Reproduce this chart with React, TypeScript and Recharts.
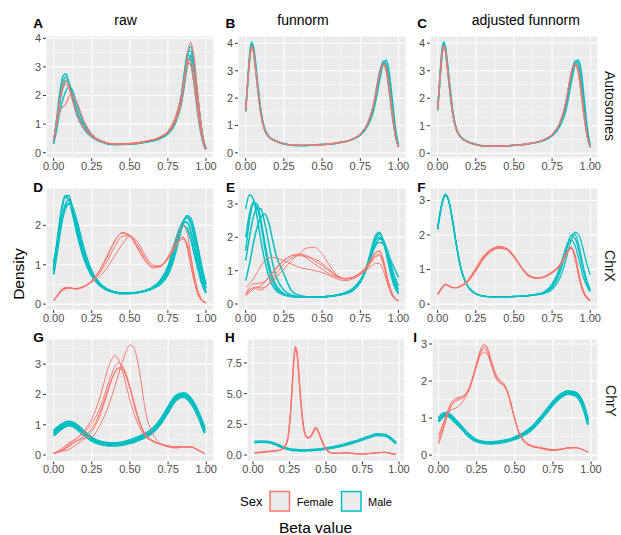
import React from 'react';
import { LineChart, Line, XAxis, YAxis, CartesianGrid, ReferenceLine } from 'recharts';

const FEMALE = '#F8766D';
const MALE = '#00BFC4';
const FONT = '"Liberation Sans", Arial, Helvetica, sans-serif';

const xTickValues = [0, 0.25, 0.5, 0.75, 1];
const xMinorValues = [0.125, 0.375, 0.625, 0.875];
const columnTitles = ['raw', 'funnorm', 'adjusted funnorm'];
const rowLabels = ['Autosomes', 'ChrX', 'ChrY'];
const sexLevels = ['Female', 'Male'];

// ---------- Panel A: raw, autosomes ----------
const xA = [0, 0.02, 0.04, 0.06, 0.08, 0.1, 0.12, 0.15, 0.2, 0.25, 0.3, 0.4, 0.5, 0.6, 0.7, 0.75, 0.8, 0.84, 0.86, 0.88, 0.9, 0.92, 0.94, 0.96, 0.98, 1.0];
const aM1 = [0.40, 1.20, 2.10, 2.65, 2.76, 2.45, 1.95, 1.35, 0.82, 0.55, 0.40, 0.28, 0.30, 0.37, 0.52, 0.70, 1.15, 1.95, 2.70, 3.55, 3.55, 2.90, 2.00, 1.10, 0.45, 0.12];
const aM2 = [0.45, 1.10, 1.90, 2.45, 2.65, 2.45, 2.00, 1.40, 0.85, 0.56, 0.41, 0.29, 0.30, 0.36, 0.50, 0.68, 1.20, 2.10, 2.90, 3.45, 3.20, 2.45, 1.60, 0.85, 0.35, 0.10];
const aM3 = [0.30, 0.80, 1.40, 1.85, 2.15, 2.30, 2.22, 1.75, 1.00, 0.62, 0.44, 0.29, 0.30, 0.37, 0.50, 0.66, 1.05, 1.75, 2.40, 3.10, 3.40, 3.00, 2.20, 1.30, 0.55, 0.15];
const aM4 = [0.35, 0.95, 1.70, 2.25, 2.50, 2.45, 2.10, 1.55, 0.90, 0.58, 0.42, 0.29, 0.30, 0.36, 0.50, 0.66, 1.05, 1.80, 2.55, 3.45, 3.72, 3.20, 2.30, 1.30, 0.55, 0.16];
const aF1 = [0.42, 1.10, 1.85, 2.40, 2.55, 2.35, 1.95, 1.40, 0.85, 0.57, 0.42, 0.30, 0.31, 0.38, 0.53, 0.70, 1.10, 1.85, 2.60, 3.50, 3.85, 3.40, 2.40, 1.35, 0.55, 0.15];
const aF2 = [0.40, 1.05, 1.75, 2.25, 2.40, 2.25, 1.90, 1.38, 0.86, 0.58, 0.43, 0.31, 0.32, 0.39, 0.54, 0.72, 1.15, 1.90, 2.55, 3.15, 3.28, 2.80, 1.95, 1.10, 0.45, 0.12];
const aF3 = [0.45, 1.00, 1.45, 1.60, 1.70, 1.95, 2.05, 1.80, 1.10, 0.65, 0.45, 0.31, 0.33, 0.40, 0.56, 0.75, 1.25, 2.05, 2.70, 3.15, 3.05, 2.45, 1.65, 0.90, 0.38, 0.10];

// ---------- Panel B: funnorm, autosomes ----------
const xB = [0, 0.01, 0.02, 0.03, 0.04, 0.05, 0.06, 0.08, 0.1, 0.12, 0.15, 0.2, 0.25, 0.3, 0.4, 0.5, 0.6, 0.7, 0.75, 0.8, 0.84, 0.86, 0.88, 0.9, 0.92, 0.94, 0.96, 0.98, 1.0];
const bM1 = [1.55, 2.35, 3.15, 3.80, 4.05, 3.85, 3.40, 2.35, 1.45, 0.92, 0.60, 0.42, 0.33, 0.28, 0.27, 0.30, 0.36, 0.50, 0.66, 1.05, 1.75, 2.35, 2.95, 3.35, 3.25, 2.55, 1.55, 0.70, 0.22];
const bM2 = [1.60, 2.25, 3.00, 3.60, 3.92, 3.92, 3.55, 2.50, 1.55, 0.97, 0.62, 0.43, 0.33, 0.28, 0.27, 0.30, 0.36, 0.49, 0.64, 1.00, 1.60, 2.15, 2.75, 3.25, 3.38, 2.90, 1.90, 0.90, 0.28];
const bM3 = [1.50, 2.30, 3.10, 3.72, 3.98, 3.80, 3.30, 2.28, 1.42, 0.90, 0.59, 0.42, 0.33, 0.28, 0.27, 0.30, 0.36, 0.51, 0.68, 1.10, 1.85, 2.50, 3.05, 3.30, 3.00, 2.20, 1.30, 0.60, 0.20];
const bF1 = [1.55, 2.30, 3.05, 3.65, 3.90, 3.78, 3.35, 2.35, 1.45, 0.92, 0.60, 0.42, 0.33, 0.28, 0.27, 0.30, 0.36, 0.50, 0.67, 1.07, 1.80, 2.40, 2.98, 3.28, 3.10, 2.40, 1.45, 0.65, 0.22];
const bF2 = [1.58, 2.32, 3.05, 3.62, 3.85, 3.70, 3.28, 2.30, 1.43, 0.91, 0.60, 0.42, 0.33, 0.28, 0.27, 0.30, 0.36, 0.50, 0.68, 1.10, 1.85, 2.45, 3.02, 3.22, 2.95, 2.20, 1.30, 0.60, 0.20];

// ---------- Panel C: adjusted funnorm, autosomes ----------
const xC = [0, 0.01, 0.02, 0.03, 0.04, 0.05, 0.06, 0.08, 0.1, 0.12, 0.15, 0.2, 0.25, 0.3, 0.4, 0.5, 0.6, 0.7, 0.75, 0.8, 0.84, 0.86, 0.88, 0.9, 0.92, 0.94, 0.96, 0.98, 1.0];
const cM1 = [1.62, 2.40, 3.20, 3.82, 4.04, 3.85, 3.38, 2.32, 1.43, 0.91, 0.59, 0.41, 0.32, 0.27, 0.26, 0.29, 0.35, 0.49, 0.65, 1.02, 1.70, 2.30, 2.92, 3.35, 3.30, 2.65, 1.65, 0.75, 0.25];
const cM2 = [1.55, 2.20, 2.95, 3.58, 3.92, 3.90, 3.52, 2.48, 1.52, 0.95, 0.61, 0.42, 0.32, 0.27, 0.26, 0.29, 0.35, 0.48, 0.63, 0.98, 1.55, 2.10, 2.70, 3.20, 3.40, 3.00, 2.00, 0.95, 0.30];
const cM3 = [1.60, 2.35, 3.12, 3.75, 4.00, 3.80, 3.30, 2.25, 1.40, 0.90, 0.59, 0.41, 0.32, 0.27, 0.26, 0.29, 0.35, 0.50, 0.67, 1.08, 1.82, 2.45, 3.02, 3.30, 3.05, 2.25, 1.35, 0.62, 0.21];
const cF1 = [1.60, 2.32, 3.08, 3.68, 3.92, 3.78, 3.33, 2.32, 1.44, 0.92, 0.60, 0.41, 0.32, 0.27, 0.26, 0.29, 0.35, 0.50, 0.67, 1.07, 1.80, 2.42, 3.00, 3.27, 3.10, 2.40, 1.45, 0.66, 0.22];
const cF2 = [1.58, 2.30, 3.05, 3.62, 3.86, 3.72, 3.28, 2.30, 1.43, 0.91, 0.60, 0.41, 0.32, 0.27, 0.26, 0.29, 0.35, 0.50, 0.68, 1.10, 1.86, 2.48, 3.04, 3.22, 2.95, 2.20, 1.30, 0.60, 0.20];

// ---------- Panel D: raw, ChrX ----------
const xD = [0, 0.025, 0.05, 0.075, 0.1, 0.125, 0.15, 0.2, 0.25, 0.3, 0.35, 0.4, 0.45, 0.5, 0.55, 0.6, 0.65, 0.7, 0.75, 0.8, 0.825, 0.85, 0.875, 0.9, 0.925, 0.95, 0.975, 1.0];
const dM1 = [0.90, 1.60, 2.30, 2.75, 2.75, 2.40, 1.95, 1.20, 0.74, 0.49, 0.36, 0.30, 0.27, 0.27, 0.29, 0.33, 0.40, 0.52, 0.80, 1.45, 1.80, 2.10, 2.20, 2.05, 1.68, 1.20, 0.75, 0.40];
const dM2 = [0.75, 1.35, 2.00, 2.50, 2.65, 2.45, 2.05, 1.30, 0.80, 0.52, 0.37, 0.30, 0.27, 0.27, 0.29, 0.33, 0.41, 0.55, 0.88, 1.55, 1.88, 2.08, 2.08, 1.85, 1.45, 0.98, 0.60, 0.30];
const dM3 = [1.05, 1.55, 2.05, 2.40, 2.55, 2.45, 2.15, 1.40, 0.84, 0.54, 0.38, 0.31, 0.28, 0.28, 0.30, 0.34, 0.40, 0.50, 0.74, 1.30, 1.70, 2.05, 2.25, 2.18, 1.85, 1.38, 0.90, 0.50];
const dM4 = [0.85, 1.65, 2.35, 2.72, 2.65, 2.28, 1.85, 1.15, 0.72, 0.48, 0.36, 0.30, 0.27, 0.27, 0.29, 0.34, 0.43, 0.60, 0.95, 1.62, 1.90, 2.00, 1.92, 1.65, 1.25, 0.85, 0.50, 0.28];
const dF1 = [0.08, 0.20, 0.33, 0.40, 0.41, 0.39, 0.38, 0.44, 0.58, 0.82, 1.18, 1.58, 1.82, 1.75, 1.45, 1.12, 0.94, 0.97, 1.20, 1.62, 1.85, 2.00, 1.82, 1.25, 0.70, 0.30, 0.10, 0.04];
const dF2 = [0.09, 0.22, 0.35, 0.41, 0.42, 0.40, 0.39, 0.45, 0.60, 0.85, 1.22, 1.60, 1.80, 1.72, 1.42, 1.10, 0.92, 0.95, 1.15, 1.45, 1.62, 1.70, 1.50, 1.00, 0.55, 0.22, 0.08, 0.03];
const dF3 = [0.08, 0.20, 0.32, 0.38, 0.40, 0.40, 0.40, 0.46, 0.56, 0.70, 0.92, 1.22, 1.52, 1.72, 1.58, 1.25, 1.00, 0.96, 1.15, 1.50, 1.65, 1.70, 1.45, 0.98, 0.55, 0.22, 0.08, 0.03];
const dF4 = [0.10, 0.23, 0.36, 0.42, 0.42, 0.40, 0.39, 0.44, 0.57, 0.78, 1.08, 1.45, 1.72, 1.74, 1.50, 1.18, 0.97, 0.98, 1.18, 1.48, 1.60, 1.65, 1.55, 1.15, 0.65, 0.28, 0.10, 0.04];

// ---------- Panel E: funnorm, ChrX ----------
const xE = [0, 0.025, 0.05, 0.075, 0.1, 0.125, 0.15, 0.175, 0.2, 0.25, 0.3, 0.35, 0.4, 0.45, 0.5, 0.55, 0.6, 0.65, 0.7, 0.75, 0.8, 0.825, 0.85, 0.875, 0.9, 0.925, 0.95, 0.975, 1.0];
const eM1 = [2.85, 3.28, 3.15, 2.60, 1.90, 1.30, 0.85, 0.56, 0.40, 0.27, 0.22, 0.20, 0.20, 0.20, 0.21, 0.23, 0.26, 0.31, 0.40, 0.65, 1.20, 1.60, 1.95, 2.10, 1.92, 1.50, 1.00, 0.60, 0.35];
const eM2 = [2.00, 2.70, 3.05, 3.00, 2.50, 1.85, 1.25, 0.82, 0.56, 0.32, 0.24, 0.21, 0.20, 0.20, 0.21, 0.23, 0.26, 0.32, 0.42, 0.70, 1.25, 1.62, 1.92, 2.00, 1.85, 1.50, 1.05, 0.68, 0.45];
const eM3 = [1.30, 2.00, 2.60, 2.88, 2.85, 2.42, 1.85, 1.25, 0.82, 0.42, 0.27, 0.22, 0.21, 0.21, 0.21, 0.23, 0.26, 0.31, 0.40, 0.66, 1.25, 1.70, 2.05, 2.15, 1.90, 1.40, 0.88, 0.50, 0.30];
const eM4 = [0.70, 1.20, 1.80, 2.30, 2.60, 2.70, 2.45, 1.95, 1.45, 0.90, 0.40, 0.26, 0.22, 0.21, 0.21, 0.23, 0.27, 0.34, 0.46, 0.72, 1.15, 1.48, 1.75, 1.85, 1.80, 1.60, 1.30, 1.05, 0.80];
const eM5 = [1.60, 2.50, 3.00, 2.90, 2.40, 1.70, 1.10, 0.70, 0.48, 0.29, 0.23, 0.21, 0.20, 0.20, 0.21, 0.23, 0.27, 0.33, 0.44, 0.68, 1.15, 1.50, 1.80, 1.95, 1.90, 1.62, 1.20, 0.82, 0.55];
const eF1 = [0.50, 0.60, 0.75, 0.95, 1.15, 1.30, 1.38, 1.40, 1.38, 1.30, 1.20, 1.10, 1.05, 1.00, 0.95, 0.85, 0.75, 0.70, 0.75, 0.88, 1.05, 1.15, 1.22, 1.22, 1.00, 0.65, 0.32, 0.15, 0.10];
const eF2 = [0.28, 0.40, 0.50, 0.50, 0.48, 0.50, 0.58, 0.68, 0.80, 1.05, 1.30, 1.50, 1.68, 1.70, 1.50, 1.15, 0.85, 0.75, 0.80, 0.95, 1.20, 1.40, 1.55, 1.58, 1.30, 0.80, 0.40, 0.18, 0.10];
const eF3 = [0.30, 0.50, 0.60, 0.62, 0.63, 0.68, 0.78, 0.90, 1.05, 1.30, 1.45, 1.50, 1.45, 1.30, 1.15, 0.98, 0.82, 0.75, 0.78, 0.92, 1.15, 1.30, 1.45, 1.50, 1.25, 0.80, 0.40, 0.18, 0.10];
const eF4 = [0.25, 0.35, 0.45, 0.50, 0.55, 0.65, 0.80, 0.95, 1.10, 1.30, 1.45, 1.47, 1.38, 1.20, 1.05, 0.90, 0.80, 0.77, 0.80, 0.92, 1.15, 1.35, 1.52, 1.60, 1.35, 0.85, 0.42, 0.18, 0.10];
const eF5 = [0.32, 0.42, 0.48, 0.45, 0.42, 0.48, 0.60, 0.75, 0.92, 1.20, 1.38, 1.45, 1.42, 1.35, 1.22, 1.02, 0.85, 0.76, 0.78, 0.90, 1.12, 1.28, 1.42, 1.45, 1.20, 0.75, 0.38, 0.17, 0.10];

// ---------- Panel F: adjusted funnorm, ChrX ----------
const xF = [0, 0.025, 0.05, 0.075, 0.1, 0.125, 0.15, 0.175, 0.2, 0.25, 0.3, 0.35, 0.4, 0.45, 0.5, 0.55, 0.6, 0.65, 0.7, 0.75, 0.8, 0.825, 0.85, 0.875, 0.9, 0.925, 0.95, 0.975, 1.0];
const fM1 = [2.20, 2.85, 3.18, 2.95, 2.35, 1.65, 1.08, 0.72, 0.50, 0.30, 0.23, 0.21, 0.21, 0.21, 0.22, 0.23, 0.25, 0.28, 0.34, 0.52, 0.98, 1.35, 1.72, 1.98, 1.90, 1.55, 1.05, 0.65, 0.38];
const fM2 = [2.15, 2.80, 3.15, 2.95, 2.38, 1.68, 1.10, 0.73, 0.50, 0.30, 0.23, 0.21, 0.21, 0.21, 0.22, 0.23, 0.25, 0.28, 0.33, 0.48, 0.90, 1.25, 1.65, 2.00, 2.02, 1.70, 1.18, 0.72, 0.42];
const fM3 = [2.18, 2.83, 3.16, 2.94, 2.36, 1.66, 1.09, 0.72, 0.50, 0.30, 0.23, 0.21, 0.21, 0.21, 0.22, 0.23, 0.25, 0.27, 0.31, 0.42, 0.75, 1.05, 1.45, 1.85, 2.08, 2.00, 1.65, 1.20, 0.85];
const fM4 = [2.22, 2.86, 3.18, 2.96, 2.35, 1.64, 1.07, 0.71, 0.50, 0.30, 0.23, 0.21, 0.21, 0.21, 0.22, 0.23, 0.25, 0.29, 0.36, 0.58, 1.05, 1.42, 1.75, 1.85, 1.70, 1.30, 0.85, 0.55, 0.35];
const fF1 = [0.28, 0.45, 0.57, 0.52, 0.48, 0.48, 0.52, 0.58, 0.68, 1.00, 1.35, 1.55, 1.65, 1.60, 1.38, 1.05, 0.82, 0.75, 0.80, 0.92, 1.12, 1.30, 1.52, 1.65, 1.40, 0.85, 0.42, 0.20, 0.10];
const fF2 = [0.26, 0.43, 0.56, 0.52, 0.47, 0.47, 0.51, 0.57, 0.66, 0.96, 1.30, 1.52, 1.62, 1.58, 1.36, 1.04, 0.80, 0.74, 0.78, 0.90, 1.10, 1.28, 1.48, 1.62, 1.42, 0.90, 0.45, 0.22, 0.11];
const fF3 = [0.30, 0.46, 0.58, 0.53, 0.48, 0.48, 0.53, 0.60, 0.70, 1.04, 1.38, 1.58, 1.67, 1.62, 1.40, 1.07, 0.83, 0.76, 0.80, 0.93, 1.14, 1.33, 1.55, 1.62, 1.32, 0.78, 0.38, 0.18, 0.09];

// ---------- Panel G: raw, ChrY ----------
const xG = [0, 0.05, 0.1, 0.15, 0.2, 0.25, 0.3, 0.325, 0.35, 0.375, 0.4, 0.425, 0.45, 0.475, 0.5, 0.525, 0.55, 0.575, 0.6, 0.65, 0.7, 0.75, 0.8, 0.85, 0.9, 0.95, 0.99];
const gM1 = [0.64, 0.86, 0.98, 0.88, 0.66, 0.47, 0.37, 0.34, 0.32, 0.31, 0.31, 0.32, 0.34, 0.36, 0.40, 0.43, 0.48, 0.53, 0.59, 0.75, 1.03, 1.42, 1.80, 1.92, 1.72, 1.25, 0.72];
const gM2 = [0.72, 0.94, 1.05, 0.95, 0.72, 0.52, 0.41, 0.38, 0.36, 0.35, 0.35, 0.36, 0.38, 0.40, 0.44, 0.48, 0.53, 0.58, 0.64, 0.80, 1.10, 1.50, 1.88, 2.00, 1.80, 1.32, 0.80];
const gM3 = [0.80, 1.00, 1.10, 1.00, 0.78, 0.57, 0.45, 0.42, 0.40, 0.39, 0.39, 0.40, 0.42, 0.45, 0.49, 0.53, 0.58, 0.64, 0.70, 0.87, 1.17, 1.58, 1.95, 2.04, 1.86, 1.40, 0.88];
const gF1 = [0.05, 0.12, 0.28, 0.45, 0.55, 0.60, 0.95, 1.20, 1.50, 1.85, 2.25, 2.65, 3.05, 3.42, 3.63, 3.55, 3.10, 2.35, 1.50, 0.70, 0.38, 0.27, 0.23, 0.26, 0.27, 0.15, 0.05];
const gF2 = [0.05, 0.15, 0.35, 0.55, 0.80, 1.20, 1.85, 2.30, 2.75, 3.10, 3.28, 3.15, 2.80, 2.30, 1.80, 1.40, 1.05, 0.80, 0.62, 0.45, 0.35, 0.28, 0.25, 0.27, 0.26, 0.15, 0.05];
const gF3 = [0.05, 0.20, 0.40, 0.55, 0.75, 1.05, 1.50, 1.85, 2.25, 2.60, 2.90, 3.05, 2.95, 2.65, 2.20, 1.70, 1.25, 0.90, 0.65, 0.45, 0.36, 0.30, 0.26, 0.28, 0.27, 0.15, 0.05];
const gF4 = [0.08, 0.12, 0.18, 0.35, 0.52, 0.80, 1.25, 1.62, 2.00, 2.40, 2.72, 2.88, 2.88, 2.65, 2.25, 1.78, 1.30, 0.95, 0.68, 0.46, 0.36, 0.30, 0.26, 0.28, 0.28, 0.16, 0.05];
const gF5 = [0.06, 0.16, 0.30, 0.48, 0.62, 0.88, 1.35, 1.70, 2.08, 2.45, 2.72, 2.84, 2.82, 2.58, 2.20, 1.75, 1.30, 0.95, 0.70, 0.48, 0.37, 0.30, 0.27, 0.28, 0.27, 0.15, 0.05];

// ---------- Panel H: funnorm, ChrY ----------
const xH = [0.01, 0.05, 0.1, 0.15, 0.2, 0.22, 0.24, 0.26, 0.27, 0.28, 0.29, 0.3, 0.31, 0.32, 0.34, 0.36, 0.38, 0.4, 0.42, 0.43, 0.44, 0.46, 0.48, 0.5, 0.55, 0.6, 0.65, 0.7, 0.75, 0.8, 0.85, 0.9, 0.95, 0.98];
const hM1 = [1.00, 1.06, 1.05, 0.88, 0.62, 0.54, 0.47, 0.42, 0.40, 0.39, 0.38, 0.37, 0.37, 0.36, 0.36, 0.36, 0.37, 0.38, 0.40, 0.41, 0.42, 0.44, 0.47, 0.50, 0.60, 0.72, 0.88, 1.05, 1.25, 1.45, 1.62, 1.58, 1.25, 0.92];
const hM2 = [1.08, 1.12, 1.10, 0.94, 0.68, 0.60, 0.52, 0.47, 0.45, 0.44, 0.43, 0.42, 0.41, 0.40, 0.40, 0.40, 0.41, 0.42, 0.44, 0.45, 0.46, 0.48, 0.51, 0.54, 0.65, 0.78, 0.95, 1.12, 1.33, 1.53, 1.70, 1.66, 1.32, 1.00];
const hF1 = [0.20, 0.24, 0.30, 0.35, 0.50, 0.75, 1.50, 4.10, 6.00, 7.90, 8.85, 8.50, 7.30, 5.60, 2.90, 1.65, 1.42, 1.62, 2.10, 2.25, 2.12, 1.55, 0.95, 0.50, 0.16, 0.16, 0.20, 0.12, 0.10, 0.13, 0.20, 0.23, 0.12, 0.06];
const hF2 = [0.15, 0.20, 0.26, 0.32, 0.45, 0.70, 1.35, 3.80, 5.70, 7.60, 8.60, 8.35, 7.10, 5.40, 2.75, 1.55, 1.35, 1.55, 2.00, 2.18, 2.05, 1.50, 0.90, 0.45, 0.14, 0.14, 0.18, 0.10, 0.08, 0.11, 0.18, 0.21, 0.10, 0.05];

// ---------- Panel I: adjusted funnorm, ChrY ----------
const xI = [0, 0.025, 0.05, 0.075, 0.1, 0.125, 0.15, 0.175, 0.2, 0.225, 0.25, 0.275, 0.3, 0.325, 0.35, 0.375, 0.4, 0.425, 0.45, 0.475, 0.5, 0.525, 0.55, 0.6, 0.65, 0.7, 0.75, 0.8, 0.85, 0.9, 0.95, 0.98];
const iM1 = [0.90, 1.02, 1.07, 1.02, 0.92, 0.82, 0.72, 0.60, 0.50, 0.42, 0.37, 0.34, 0.32, 0.31, 0.31, 0.32, 0.33, 0.35, 0.37, 0.40, 0.43, 0.47, 0.52, 0.65, 0.85, 1.10, 1.35, 1.55, 1.65, 1.60, 1.25, 0.82];
const iM2 = [0.95, 1.07, 1.12, 1.07, 0.97, 0.86, 0.75, 0.63, 0.53, 0.45, 0.39, 0.36, 0.34, 0.33, 0.33, 0.34, 0.35, 0.37, 0.39, 0.42, 0.45, 0.50, 0.55, 0.69, 0.89, 1.14, 1.40, 1.60, 1.70, 1.65, 1.32, 0.90];
const iM3 = [1.00, 1.11, 1.14, 1.10, 1.00, 0.89, 0.78, 0.66, 0.56, 0.47, 0.41, 0.38, 0.36, 0.35, 0.35, 0.36, 0.37, 0.39, 0.41, 0.44, 0.48, 0.53, 0.58, 0.72, 0.93, 1.18, 1.44, 1.64, 1.73, 1.69, 1.38, 0.96];
const iF1 = [0.30, 0.60, 0.95, 1.25, 1.45, 1.52, 1.55, 1.62, 1.80, 2.10, 2.45, 2.80, 2.95, 2.80, 2.45, 2.15, 2.00, 1.90, 1.70, 1.35, 0.95, 0.62, 0.42, 0.25, 0.20, 0.15, 0.12, 0.15, 0.20, 0.20, 0.14, 0.08];
const iF2 = [0.45, 0.75, 1.08, 1.35, 1.50, 1.55, 1.58, 1.65, 1.82, 2.12, 2.50, 2.85, 3.00, 2.85, 2.50, 2.20, 2.05, 1.95, 1.75, 1.40, 0.98, 0.64, 0.43, 0.26, 0.20, 0.16, 0.13, 0.15, 0.19, 0.20, 0.14, 0.08];
const iF3 = [0.55, 0.80, 1.05, 1.20, 1.25, 1.30, 1.40, 1.55, 1.78, 2.10, 2.45, 2.75, 2.88, 2.72, 2.38, 2.08, 1.95, 1.88, 1.72, 1.38, 0.98, 0.65, 0.45, 0.28, 0.22, 0.18, 0.15, 0.16, 0.19, 0.20, 0.14, 0.08];
const iF4 = [0.35, 0.65, 1.00, 1.28, 1.42, 1.48, 1.52, 1.60, 1.75, 2.05, 2.40, 2.70, 2.78, 2.68, 2.40, 2.12, 1.98, 1.90, 1.72, 1.38, 0.97, 0.63, 0.42, 0.26, 0.21, 0.17, 0.14, 0.16, 0.20, 0.20, 0.14, 0.08];

// ---------- Layout (positions / styling, separate from data) ----------
type Panel = {
  id: string;
  x: number[];
  male: number[][];
  female: number[][];
  left: number; right: number; top: number; bottom: number;
  xDom: [number, number];
  yDom: [number, number];
  yTicks: number[];
  yMinor: number[];
  yFmt?: (v: number) => string;
  maleWidth: number;
  femaleWidth: number;
};

const ROW1 = { top: 36, bottom: 158 };
const ROW2 = { top: 188, bottom: 310 };
const ROW3 = { top: 339.3, bottom: 461.7 };
const COL1 = { left: 45.7, right: 213.3 };
const COL2 = { left: 238.4, right: 406.6 };
const COL3 = { left: 430.4, right: 598.3 };
const XD: [number, number] = [-0.05, 1.05];

const panels: Panel[] = [
  { id: 'A', x: xA, male: [aM1, aM2, aM3, aM4], female: [aF1, aF2, aF3], ...COL1, ...ROW1, xDom: XD, yDom: [-0.185, 4.08], yTicks: [0, 1, 2, 3, 4], yMinor: [0.5, 1.5, 2.5, 3.5], maleWidth: 1.4, femaleWidth: 1.1 },
  { id: 'B', x: xB, male: [bM1, bM2, bM3], female: [bF1, bF2], ...COL2, ...ROW1, xDom: XD, yDom: [-0.19, 4.27], yTicks: [0, 1, 2, 3, 4], yMinor: [0.5, 1.5, 2.5, 3.5], maleWidth: 1.5, femaleWidth: 1.2 },
  { id: 'C', x: xC, male: [cM1, cM2, cM3], female: [cF1, cF2], ...COL3, ...ROW1, xDom: XD, yDom: [-0.17, 4.26], yTicks: [0, 1, 2, 3, 4], yMinor: [0.5, 1.5, 2.5, 3.5], maleWidth: 1.5, femaleWidth: 1.2 },
  { id: 'D', x: xD, male: [dM1, dM2, dM3, dM4], female: [dF1, dF2, dF3, dF4], ...COL1, ...ROW2, xDom: XD, yDom: [-0.15, 2.95], yTicks: [0, 1, 2], yMinor: [0.5, 1.5, 2.5], maleWidth: 1.8, femaleWidth: 1 },
  { id: 'E', x: xE, male: [eM1, eM2, eM3, eM4, eM5], female: [eF1, eF2, eF3, eF4, eF5], ...COL2, ...ROW2, xDom: XD, yDom: [-0.18, 3.48], yTicks: [0, 1, 2, 3], yMinor: [0.5, 1.5, 2.5], maleWidth: 1.5, femaleWidth: 1 },
  { id: 'F', x: xF, male: [fM1, fM2, fM3, fM4], female: [fF1, fF2, fF3], ...COL3, ...ROW2, xDom: XD, yDom: [-0.17, 3.36], yTicks: [0, 1, 2, 3], yMinor: [0.5, 1.5, 2.5], maleWidth: 1.3, femaleWidth: 1.1 },
  { id: 'G', x: xG, male: [gM1, gM2, gM3], female: [gF1, gF2, gF3, gF4, gF5], left: 45.7, right: 213.6, ...ROW3, xDom: XD, yDom: [-0.21, 3.83], yTicks: [0, 1, 2, 3], yMinor: [0.5, 1.5, 2.5, 3.5], maleWidth: 2.4, femaleWidth: 1 },
  { id: 'H', x: xH, male: [hM1, hM2], female: [hF1, hF2], left: 247.3, right: 405, ...ROW3, xDom: [-0.041, 1.039], yDom: [-0.52, 9.45], yTicks: [0, 2.5, 5, 7.5], yMinor: [1.25, 3.75, 6.25, 8.75], yFmt: (v) => v.toFixed(1), maleWidth: 2.2, femaleWidth: 1.3 },
  { id: 'I', x: xI, male: [iM1, iM2, iM3], female: [iF1, iF2, iF3, iF4], left: 431.7, right: 597.3, ...ROW3, xDom: [-0.043, 1.043], yDom: [-0.17, 3.135], yTicks: [0, 1, 2, 3], yMinor: [0.5, 1.5, 2.5], maleWidth: 2.2, femaleWidth: 1 },
];

const Y_AXIS_W = 34;
const X_AXIS_H = 22;
const M_TOP = 8;
const M_RIGHT = 14;

function buildRows(p: Panel) {
  return p.x.map((xv, i) => {
    const row: Record<string, number> = { x: xv };
    p.male.forEach((s, j) => { row['m' + j] = s[i]; });
    p.female.forEach((s, j) => { row['f' + j] = s[i]; });
    return row;
  });
}

const tickStyle = { fill: '#4D4D4D', fontSize: 11, fontFamily: FONT };

function PanelChart({ p }: { p: Panel }) {
  const gw = p.right - p.left;
  const gh = p.bottom - p.top;
  const rows = buildRows(p);
  return (
    <div style={{ position: 'absolute', left: p.left - Y_AXIS_W, top: p.top - M_TOP }}>
      <LineChart
        width={Y_AXIS_W + gw + M_RIGHT}
        height={M_TOP + gh + X_AXIS_H}
        data={rows}
        margin={{ top: M_TOP, right: M_RIGHT, bottom: 0, left: 0 }}
      >
        <CartesianGrid fill="#EBEBEB" stroke="#FFFFFF" strokeWidth={1.1} />
        {xMinorValues.map((v) => (
          <ReferenceLine key={'xm' + v} x={v} stroke="#FFFFFF" strokeWidth={0.55} />
        ))}
        {p.yMinor.map((v) => (
          <ReferenceLine key={'ym' + v} y={v} stroke="#FFFFFF" strokeWidth={0.55} />
        ))}
        <XAxis
          type="number"
          dataKey="x"
          domain={p.xDom}
          ticks={xTickValues}
          allowDataOverflow
          tickFormatter={(v: number) => v.toFixed(2)}
          axisLine={false}
          tickLine={{ stroke: '#333333', strokeWidth: 1 }}
          tickSize={3}
          tickMargin={1}
          tick={tickStyle}
          height={X_AXIS_H}
          interval={0}
        />
        <YAxis
          type="number"
          domain={p.yDom}
          ticks={p.yTicks}
          allowDataOverflow
          tickFormatter={(v: number) => (p.yFmt ? p.yFmt(v) : String(v))}
          axisLine={false}
          tickLine={{ stroke: '#333333', strokeWidth: 1 }}
          tickSize={3}
          tickMargin={2}
          tick={tickStyle}
          width={Y_AXIS_W}
          interval={0}
        />
        {p.male.map((_, j) => (
          <Line key={'m' + j} type="monotone" dataKey={'m' + j} stroke={MALE} strokeWidth={p.maleWidth} dot={false} activeDot={false} isAnimationActive={false} />
        ))}
        {p.female.map((_, j) => (
          <Line key={'f' + j} type="monotone" dataKey={'f' + j} stroke={FEMALE} strokeWidth={p.femaleWidth} dot={false} activeDot={false} isAnimationActive={false} />
        ))}
      </LineChart>
    </div>
  );
}

const letterPos: Record<string, [number, number]> = {
  A: [33.3, 28], B: [225.5, 27.5], C: [417.3, 27.5],
  D: [33.3, 192], E: [226, 192], F: [417.3, 192],
  G: [33.3, 342], H: [225, 342], I: [413.3, 342],
};
const titlePos: [number, number][] = [[125.5, 25], [303, 25], [525.8, 25]];
const stripPos: [number, number][] = [[610, 106], [610, 266], [611, 401]];

export default function App() {
  return (
    <div style={{ position: 'absolute', left: 0, top: 0, width: 621, height: 535, background: '#FFFFFF', fontFamily: FONT }}>
      {panels.map((p) => <PanelChart key={p.id} p={p} />)}
      <svg width={621} height={535} style={{ position: 'absolute', left: 0, top: 0, pointerEvents: 'none' }} fontFamily={FONT}>
        {columnTitles.map((t, i) => (
          <text key={t} x={titlePos[i][0]} y={titlePos[i][1]} textAnchor="middle" fontSize={14} fill="#000000">{t}</text>
        ))}
        {panels.map((p) => (
          <text key={'L' + p.id} x={letterPos[p.id][0]} y={letterPos[p.id][1]} fontSize={13.5} fontWeight="bold" fill="#000000">{p.id}</text>
        ))}
        {rowLabels.map((t, i) => (
          <text key={t} x={stripPos[i][0]} y={stripPos[i][1]} textAnchor="middle" dominantBaseline="central" fontSize={14} fill="#1A1A1A" transform={`rotate(90 ${stripPos[i][0]} ${stripPos[i][1]})`}>{t}</text>
        ))}
        <text x={18.5} y={274} textAnchor="middle" dominantBaseline="central" fontSize={15.5} fill="#000000" transform="rotate(-90 18.5 274)">Density</text>
        <text x={315.5} y={533} textAnchor="middle" fontSize={15.5} fill="#000000">Beta value</text>
        <text x={240} y={501.5} dominantBaseline="central" fontSize={13} fill="#000000">Sex</text>
        <rect x={270} y={491.5} width={19.5} height={19.5} fill="#EBEBEB" stroke={FEMALE} strokeWidth={1.5} />
        <text x={296.7} y={501.5} dominantBaseline="central" fontSize={11} fill="#000000">{sexLevels[0]}</text>
        <rect x={341.5} y={491.5} width={19.5} height={19.5} fill="#EBEBEB" stroke={MALE} strokeWidth={1.5} />
        <text x={368} y={501.5} dominantBaseline="central" fontSize={11} fill="#000000">{sexLevels[1]}</text>
      </svg>
    </div>
  );
}
